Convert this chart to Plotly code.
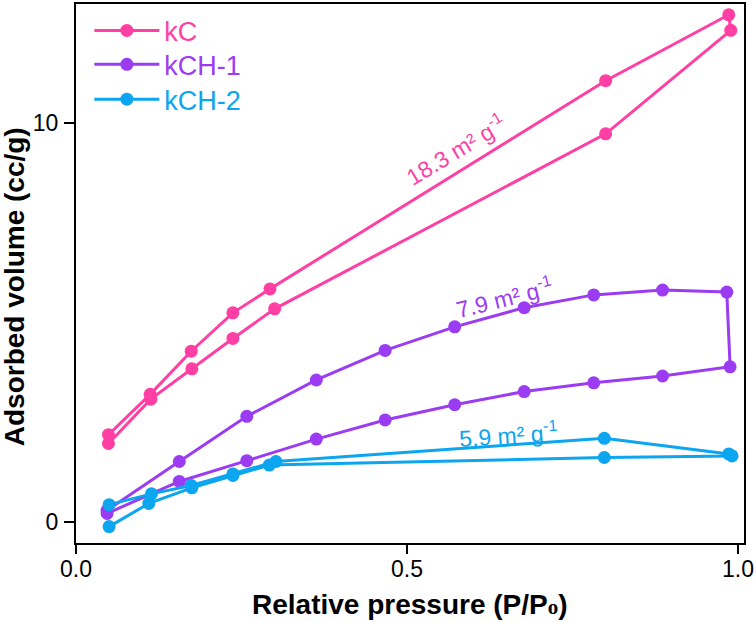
import plotly.graph_objects as go

# ---- data ----
kc_ads_x = [0.049, 0.113, 0.175, 0.237, 0.300, 0.800, 0.989]
kc_ads_y = [1.97, 3.08, 3.84, 4.60, 5.34, 9.72, 12.31]
kc_des_x = [0.986, 0.800, 0.293, 0.237, 0.174, 0.112, 0.049]
kc_des_y = [12.70, 11.05, 5.84, 5.24, 4.28, 3.20, 2.19]

kch1_ads_x = [0.047, 0.156, 0.258, 0.363, 0.467, 0.572, 0.677, 0.782, 0.886, 0.988]
kch1_ads_y = [0.22, 1.02, 1.54, 2.08, 2.56, 2.94, 3.27, 3.49, 3.66, 3.89]
kch1_des_x = [0.983, 0.886, 0.782, 0.677, 0.572, 0.467, 0.363, 0.258, 0.156, 0.047]
kch1_des_y = [5.76, 5.81, 5.69, 5.37, 4.89, 4.30, 3.56, 2.65, 1.52, 0.30]

kch2_ads_x = [0.050, 0.110, 0.175, 0.237, 0.292, 0.798, 0.991]
kch2_ads_y = [-0.11, 0.47, 0.86, 1.17, 1.43, 1.62, 1.66]
kch2_des_x = [0.986, 0.798, 0.302, 0.237, 0.174, 0.114, 0.050]
kch2_des_y = [1.71, 2.10, 1.52, 1.21, 0.92, 0.71, 0.44]

series_names = ["kC", "kCH-1", "kCH-2"]
colors = ["#FF3FA4", "#9B3CF2", "#0BA5F0"]

x_ticks = [0, 0.5, 1.0]
x_tick_text = ["0.0", "0.5", "1.0"]
y_ticks = [0, 10]
y_tick_text = ["0", "10"]

labels = ["18.3 m² g<sup>-1</sup>", "7.9 m² g<sup>-1</sup>", "5.9 m² g<sup>-1</sup>"]
label_x = [0.574, 0.647, 0.654]
label_y = [9.33, 5.63, 2.22]
label_angle = [-31, -14, -4]

FONT = "Arial, Liberation Sans, sans-serif"

data = [
    (kc_ads_x + kc_des_x, kc_ads_y + kc_des_y),
    (kch1_ads_x + kch1_des_x, kch1_ads_y + kch1_des_y),
    (kch2_ads_x + kch2_des_x, kch2_ads_y + kch2_des_y),
]
legend_ids = ["legend", "legend2", "legend3"]
legend_y = [0.9501, 0.8872, 0.8226]

fig = go.Figure()
for (xs, ys), name, c, lid in zip(data, series_names, colors, legend_ids):
    fig.add_trace(go.Scatter(
        x=xs, y=ys, mode="lines+markers",
        name=f"<span style='color:{c}'>{name}</span>",
        line=dict(color=c, width=3),
        marker=dict(color=c, size=13),
        legend=lid,
    ))

for t, x, y, a, c in zip(labels, label_x, label_y, label_angle, colors):
    fig.add_annotation(x=x, y=y, text=t, showarrow=False, textangle=a,
                       font=dict(family=FONT, size=23, color=c))

# axis titles
fig.add_annotation(xref="paper", yref="paper", x=0.5, y=-0.1146,
                   xanchor="center", yanchor="middle", showarrow=False,
                   text="<b>Relative pressure (P/P<span style='font-family:Liberation Serif;font-size:21px'>o</span>)</b>",
                   font=dict(family=FONT, size=28, color="black"))
fig.add_annotation(xref="paper", yref="paper", x=-0.0909, y=0.475,
                   xanchor="center", yanchor="middle", showarrow=False, textangle=-90,
                   text="<b>Adsorbed volume (cc/g)</b>",
                   font=dict(family=FONT, size=28, color="black"))

leg_common = dict(x=0.02, xanchor="left", yanchor="middle",
                  font=dict(family=FONT, size=27),
                  itemwidth=65, tracegroupgap=0, bgcolor="rgba(0,0,0,0)")
fig.update_layout(
    width=756, height=622,
    margin=dict(l=76, r=9, t=2, b=79),
    plot_bgcolor="white", paper_bgcolor="white",
    font=dict(family=FONT, size=23, color="black"),
    showlegend=True,
    legend=dict(y=legend_y[0], **leg_common),
    legend2=dict(y=legend_y[1], **leg_common),
    legend3=dict(y=legend_y[2], **leg_common),
)
fig.update_xaxes(
    range=[0, 1.009], tickvals=x_ticks, ticktext=x_tick_text,
    showline=True, linecolor="black", linewidth=2, mirror=True,
    ticks="outside", ticklen=9, tickwidth=2, tickcolor="black",
    showgrid=False, zeroline=False, ticklabelstandoff=-5,
    ticklabeloverflow="allow",
    tickfont=dict(family=FONT, size=23),
)
fig.update_yaxes(
    range=[-0.52, 12.97], tickvals=y_ticks, ticktext=y_tick_text,
    showline=True, linecolor="black", linewidth=2, mirror=True,
    ticks="outside", ticklen=10, tickwidth=2, tickcolor="black",
    showgrid=False, zeroline=False, ticklabelstandoff=1,
    tickfont=dict(family=FONT, size=23),
)

fig.write_html("out.html")
